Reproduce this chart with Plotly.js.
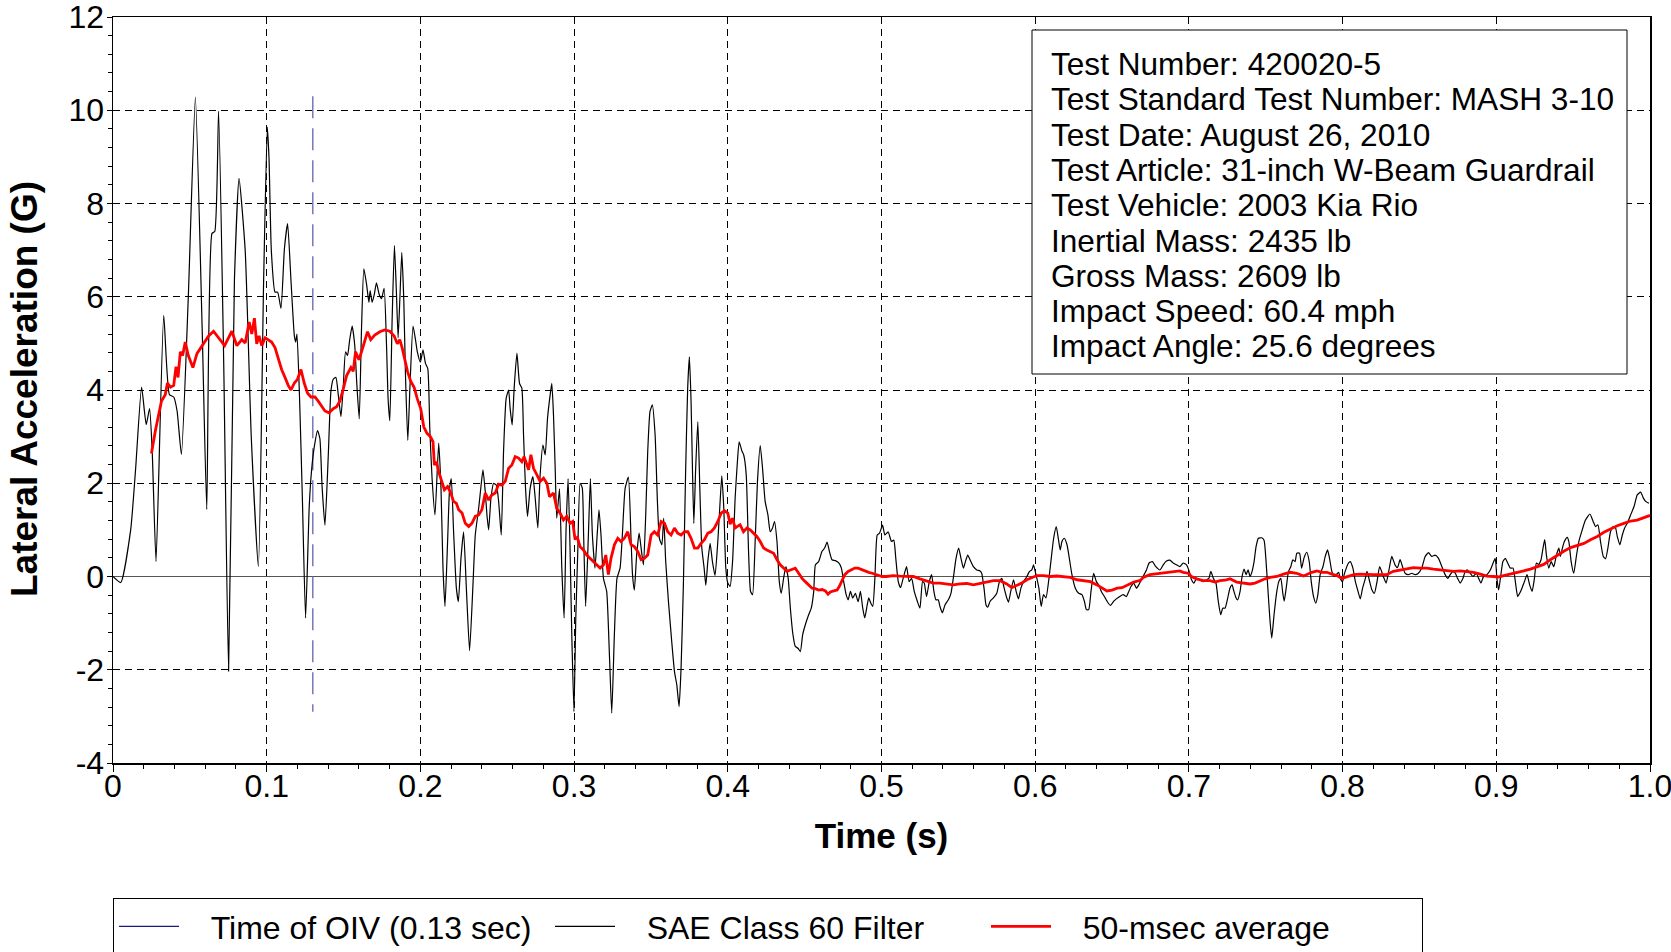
<!DOCTYPE html>
<html><head><meta charset="utf-8">
<script src="https://cdn.plot.ly/plotly-3.0.1.min.js"></script>
<style>html,body{margin:0;padding:0;background:#fff}#chart{width:1671px;height:952px}</style>
</head><body><div id="chart"></div>
<script>
// ---- data ----
const sae_time = [0,0.005,0.0115,0.0147,0.0186,0.0216,0.0238,0.0255,0.028,0.033,0.0367,0.0395,0.0417,0.0445,0.049,0.0536,0.058,0.061,0.0644,0.0662,0.0687,0.072,0.0752,0.079,0.082,0.086,0.090,0.0946,0.098,0.1004,
0.1015,0.103,0.1054,0.1071,0.1093,0.1115,0.1136,0.1158,0.118,0.1189,0.1197,0.1214,0.1232,0.1253,0.1277,0.1292,0.131,0.1331,0.1346,0.136,0.1379,0.14,0.1418,0.1433,0.145,0.1466,0.1483,0.1498,0.1513,0.1526,0.154,0.1556,0.1573,0.1586,0.1602,0.1617,0.1632,0.165,0.1665,0.1673,0.1686,0.17,0.1714,0.1732,0.1747,0.1764,0.178,0.179,0.1801,0.1816,0.1831,0.1844,0.1855,0.1866,0.1879,0.1892,0.1903,0.1918,0.1933,0.1952,0.1968,0.198,
0.2,0.2017,0.2033,0.2048,0.2061,0.2076,0.2095,0.2119,0.2134,0.2147,0.216,0.2177,0.219,0.2201,0.2216,0.2234,0.2247,0.2264,0.2281,0.2299,0.232,0.2342,0.2357,0.2379,0.2394,0.2407,0.2422,0.2433,0.2444,0.2459,0.2476,0.2494,0.2509,0.2526,0.2541,0.2558,0.2574,0.2584,0.2597,0.261,0.2628,0.2645,0.266,0.2671,0.2684,0.2697,0.2714,0.2732,0.2747,0.2764,0.2779,0.2797,0.2812,0.2827,0.2844,0.2855,0.2866,0.2877,0.2887,0.2905,0.292,0.2935,0.2948,0.2961,0.2974,0.2985,0.2999,0.3011,0.3024,0.3039,
0.3053,0.3062,0.3075,0.3093,0.3106,0.3119,0.3136,0.315,0.3162,0.3175,0.3191,0.3212,0.3229,0.3245,0.3262,0.3279,0.3299,0.3314,0.3332,0.3353,0.3371,0.338,0.3392,0.3407,0.3423,0.3436,0.3451,0.3466,0.3479,0.3494,0.3509,0.3527,0.3542,0.3555,0.3571,0.3583,0.3596,0.3614,0.3635,0.3653,0.3668,0.3683,0.3696,0.3711,0.3726,0.3739,0.375,0.3761,0.377,0.3779,0.3791,0.3805,0.3818,0.3831,0.3846,0.3857,0.387,0.3885,0.39,0.3917,0.3935,0.395,0.3961,0.3974,0.3987,
0.4,0.4015,0.4031,0.4048,0.4061,0.4074,0.4091,0.4104,0.412,0.4135,0.4148,0.4161,0.4178,0.4193,0.4211,0.4226,0.4243,0.4261,0.4276,0.4291,0.4304,0.432,0.4335,0.4348,0.4363,0.4378,0.4393,0.4407,0.4424,0.4439,0.4457,0.4472,0.4487,0.4504,0.4526,0.4543,0.4559,0.457,0.4591,0.4613,0.463,0.4646,0.4661,0.4678,0.47,0.4722,0.4739,0.4754,0.477,0.4783,0.4798,0.4813,0.483,0.4848,0.4863,0.4878,0.4891,0.4907,0.4917,0.493,0.4943,0.4957,0.4972,0.4987,
0.5007,0.5022,0.5043,0.5065,0.508,0.5093,0.5109,0.5124,0.5141,0.5163,0.518,0.5196,0.5213,0.5233,0.525,0.5267,0.5278,0.5293,0.5311,0.5326,0.5341,0.5354,0.5369,0.538,0.5396,0.5413,0.5435,0.5452,0.5467,0.5485,0.5502,0.5517,0.5533,0.5546,0.5561,0.5576,0.5598,0.562,0.5641,0.5652,0.5667,0.568,0.5691,0.5707,0.5728,0.575,0.5767,0.5783,0.5798,0.5815,0.5826,0.5841,0.5859,0.5876,0.5891,0.5907,0.5924,0.5946,0.5963,0.5978,0.5989,
0.6,0.6011,0.6024,0.6039,0.6054,0.607,0.6087,0.6102,0.612,0.6137,0.6152,0.6163,0.6174,0.6189,0.6207,0.6222,0.6239,0.6261,0.6283,0.6304,0.632,0.6333,0.6348,0.6363,0.638,0.6398,0.6413,0.643,0.645,0.6467,0.6489,0.6511,0.6528,0.655,0.6572,0.6593,0.6609,0.6624,0.6641,0.6659,0.6674,0.668,0.6702,0.6724,0.6741,0.6763,0.6785,0.6811,0.6833,0.6854,0.6876,0.6898,0.692,0.6941,0.6963,0.6985,
0.7002,0.7017,0.7033,0.705,0.7072,0.7093,0.7115,0.713,0.7143,0.7159,0.7176,0.7191,0.7207,0.722,0.7235,0.725,0.7267,0.7281,0.7293,0.7307,0.7317,0.7333,0.7346,0.7359,0.7372,0.7385,0.7398,0.7411,0.7424,0.7437,0.7452,0.7474,0.7489,0.7502,0.7515,0.7528,0.7539,0.7554,0.7572,0.7585,0.7598,0.7611,0.762,0.7633,0.7648,0.7663,0.7676,0.7691,0.7702,0.772,0.7733,0.775,0.7767,0.7783,0.7796,0.7811,0.7826,0.7839,0.7854,0.7872,0.7887,0.7902,0.7915,0.793,0.7946,0.7959,0.7974,0.7985,
0.8,0.8011,0.8024,0.8039,0.805,0.8067,0.8083,0.8098,0.8115,0.813,0.8148,0.8159,0.8176,0.8191,0.8207,0.8224,0.8241,0.8265,0.8283,0.83,0.832,0.8341,0.8357,0.8374,0.839,0.8407,0.8428,0.845,0.8472,0.8493,0.8515,0.8537,0.8559,0.858,0.8602,0.8624,0.8646,0.8667,0.8685,0.87,0.8717,0.8733,0.8748,0.8765,0.8783,0.8798,0.8813,0.883,0.8848,0.887,0.8885,0.89,0.8917,0.8939,0.8961,0.8983,0.8993,
0.9004,0.9015,0.903,0.9043,0.9059,0.9074,0.9091,0.9109,0.9124,0.9139,0.9152,0.9167,0.9183,0.92,0.9217,0.9233,0.9248,0.9261,0.9276,0.9291,0.9304,0.9315,0.9326,0.9341,0.9357,0.9374,0.9391,0.9407,0.9417,0.943,0.9443,0.9461,0.9472,0.9487,0.9504,0.9522,0.9537,0.9559,0.958,0.9609,0.963,0.9646,0.9661,0.9678,0.9696,0.9711,0.9726,0.9743,0.9761,0.9776,0.9787,0.9804,0.982,0.9835,0.9852,0.9874,0.9896,0.9917,0.9939,0.9957,0.9972,0.9993];
const sae_g = [0,-0.13,1.0,2.3,4.06,3.26,3.6,2.7,0.32,5.6,3.9,3.85,3.55,2.62,6.0,10.28,5.33,1.44,7.36,7.4,9.98,4.65,-2.03,6.35,8.54,7.0,2.96,0.21,6.35,9.64,
8.97,7.0,6.1,6.1,5.75,7.02,7.57,6.35,5.16,5.03,5.2,3.8,1.69,-0.89,1.52,2.28,2.79,3.13,2.96,1.95,1.1,2.54,3.98,4.23,4.27,3.89,3.43,4.06,4.82,4.74,5.08,5.37,4.95,4.15,3.38,5.33,6.6,6.26,5.88,6.13,5.88,6.05,6.3,6.05,5.96,6.18,4.91,3.8,3.34,5.5,7.1,6.09,5.12,5.92,6.95,5.92,4.31,2.92,4.15,5.37,5.08,4.82,
4.6,4.86,4.57,4.46,3.18,2.1,1.32,2.86,1.89,0.18,-0.64,0.75,1.89,2.1,0.96,-0.25,-0.54,0.39,0.96,-0.25,-1.59,-0.18,0.89,1.46,1.93,2.29,1.82,1.32,1.0,1.68,2.0,1.96,1.61,0.89,2.68,3.82,4.0,3.6,3.25,4.04,4.79,4.14,4.04,3.04,1.89,1.29,1.89,2.14,1.68,1.04,2.18,2.82,2.61,3.39,3.89,4.14,3.46,2.32,1.25,1.88,0.18,-0.89,1.04,2.1,0.54,-1.25,-2.9,-0.89,0.54,2.0,
1.9,0.89,-0.64,0.89,2.1,0.89,0.18,0.89,1.43,0.89,-0.04,-0.32,-1.61,-2.93,-1.25,-0.04,0.18,0.89,1.89,2.13,0.75,0.04,-0.29,0.46,0.93,0.61,0.25,1.32,2.68,3.54,3.68,3.04,1.61,0.82,0.68,1.25,0.32,-0.54,-1.39,-2.04,-2.32,-2.79,-1.96,-0.18,2.32,4.04,4.71,3.75,2.32,1.14,2.32,3.32,1.89,0.61,0.18,-0.19,0.32,0.71,0.32,0.02,0.75,1.61,2.16,1.46,0.18,
-0.14,-0.21,0.32,1.7,2.39,2.89,2.7,2.6,2.18,0.54,-0.32,-0.39,0.75,2.04,2.81,2.32,1.61,1.32,0.96,1.04,1.18,0.75,-0.11,-0.36,-0.04,0.21,-0.04,-0.68,-1.25,-1.5,-1.54,-1.61,-1.25,-1.04,-0.82,-0.68,-0.32,0.25,0.32,0.54,0.61,0.74,0.54,0.36,0.34,0.29,0.18,-0.11,-0.39,-0.5,-0.32,-0.46,-0.36,-0.54,-0.32,-0.68,-0.89,-0.61,-0.46,-0.57,-0.64,-0.04,0.89,0.93,
1.1,0.89,0.96,0.75,0.78,0.39,-0.11,-0.24,-0.04,0.21,-0.11,-0.04,-0.32,-0.53,-0.68,-0.11,-0.14,-0.43,-0.11,0.04,-0.32,-0.5,-0.5,-0.64,-0.78,-0.61,-0.5,-0.36,-0.04,0.39,0.61,0.39,0.18,0.32,0.46,0.36,0.21,0.14,0.12,0.07,-0.25,-0.61,-0.66,-0.53,-0.46,-0.36,-0.11,-0.04,-0.25,-0.46,-0.55,-0.32,-0.07,-0.32,-0.48,-0.25,-0.11,0.0,0.11,0.14,0.25,
0.11,-0.04,-0.25,-0.64,-0.39,-0.46,-0.11,0.32,0.82,1.07,0.78,0.57,0.75,0.82,0.68,0.39,0.04,-0.25,-0.36,-0.39,-0.53,-0.71,-0.71,-0.32,0.07,-0.11,-0.18,-0.32,-0.43,-0.53,-0.62,-0.53,-0.48,-0.43,-0.39,-0.43,-0.32,-0.21,-0.14,-0.25,-0.18,-0.14,0.0,0.14,0.29,0.32,0.21,0.14,0.25,0.33,0.35,0.29,0.25,0.21,0.29,0.25,
0.11,-0.07,-0.14,-0.04,-0.07,-0.11,-0.07,-0.04,0.11,-0.04,-0.14,-0.53,-0.82,-0.68,-0.68,-0.5,-0.25,-0.18,-0.32,-0.46,-0.5,-0.32,0.0,0.16,0.04,0.14,0.0,0.11,0.32,0.64,0.82,0.83,0.78,0.32,-0.32,-0.96,-1.32,-0.82,-0.32,-0.11,-0.04,-0.36,-0.53,-0.25,0.11,0.21,0.36,0.32,0.5,0.5,0.18,0.41,0.52,0.32,-0.11,-0.43,-0.57,-0.39,0.04,0.21,0.43,0.57,0.39,0.11,0.0,0.04,0.09,-0.04,
-0.11,0.05,0.18,0.29,0.32,0.18,-0.11,-0.29,-0.48,-0.25,-0.04,0.11,-0.11,-0.29,-0.36,-0.11,0.21,0.0,-0.14,0.11,0.43,0.25,0.19,0.36,0.21,0.07,0.04,0.07,0.04,0.07,0.18,0.43,0.51,0.43,0.46,0.39,0.21,0.04,-0.04,0.04,0.11,0.07,-0.04,-0.14,-0.04,0.11,0.14,0.07,0.0,0.07,-0.04,-0.14,0.0,0.04,0.14,0.32,0.39,
-0.04,-0.29,0.04,0.32,0.39,0.29,0.18,0.18,-0.11,-0.43,-0.36,-0.25,-0.11,0.04,-0.18,-0.32,-0.04,0.29,0.26,0.36,0.61,0.79,0.46,0.18,0.32,0.21,0.46,0.61,0.43,0.61,0.75,0.84,0.75,0.32,0.07,0.46,0.75,1.0,1.21,1.34,1.18,1.07,1.11,0.75,0.43,0.38,0.61,0.96,1.07,1.04,0.86,0.68,0.89,1.04,1.14,1.32,1.5,1.75,1.81,1.68,1.61,1.57];

const avg_time = [0.025,0.0276,0.0315,0.034,0.0354,0.0374,0.0395,0.041,0.0423,0.0438,0.0453,0.047,0.049,0.052,0.0546,0.059,0.0622,0.0654,0.0687,0.0726,0.0773,0.0806,0.0838,0.086,0.0886,0.0903,0.092,0.0935,0.095,0.0968,0.099,
0.1032,0.1054,0.1076,0.1097,0.1119,0.114,0.1158,0.118,0.12,0.1223,0.1244,0.1266,0.1288,0.1314,0.1335,0.1357,0.1379,0.1405,0.1433,0.1455,0.1476,0.1498,0.152,0.1548,0.1563,0.1578,0.16,0.1617,0.1639,0.1656,0.1677,0.1703,0.1736,0.1768,0.1801,0.1829,0.185,0.1866,0.1881,0.1898,0.1916,0.1937,0.1959,0.198,
0.2002,0.2022,0.2043,0.2065,0.2082,0.2091,0.2105,0.2119,0.2141,0.2156,0.2177,0.2194,0.2216,0.2234,0.2249,0.2271,0.2292,0.2314,0.2335,0.2357,0.2379,0.24,0.2422,0.2444,0.2465,0.2487,0.2509,0.253,0.2552,0.2574,0.2595,0.2617,0.2639,0.266,0.2675,0.2693,0.2704,0.2719,0.2736,0.2758,0.2779,0.2801,0.2823,0.284,0.2866,0.2887,0.2909,0.2931,0.2952,0.2974,0.2991,
0.3006,0.3021,0.3039,0.3061,0.3082,0.3104,0.3125,0.3147,0.3169,0.3191,0.3206,0.3223,0.324,0.3262,0.3284,0.3305,0.3327,0.3349,0.3371,0.3392,0.3414,0.3436,0.3457,0.3479,0.3501,0.3522,0.3544,0.3566,0.3588,0.3609,0.3631,0.3653,0.3674,0.3696,0.3718,0.374,0.3761,0.3783,0.3805,0.3826,0.3848,0.387,0.3891,0.3913,0.3935,0.3957,0.3978,
0.4,0.4015,0.403,0.4048,0.4065,0.408,0.4102,0.4124,0.4146,0.4167,0.4189,0.4211,0.4233,0.4254,0.4276,0.4298,0.432,0.4341,0.4363,0.4385,0.4407,0.4439,0.4461,0.4483,0.4504,0.4526,0.4548,0.457,0.4591,0.4613,0.4635,0.4652,0.4667,0.4689,0.4711,0.4726,0.4743,0.4761,0.4783,0.4804,0.4826,0.4848,0.4874,0.4896,0.4917,0.4939,0.4961,0.4983,
0.5004,0.5033,0.5076,0.512,0.5163,0.5207,0.525,0.5293,0.5337,0.538,0.5424,0.5467,0.5511,0.5554,0.5598,0.5641,0.5685,0.5728,0.5772,0.5815,0.5848,0.588,0.5913,0.5946,0.5978,
0.6011,0.6054,0.6098,0.6141,0.6185,0.6228,0.6272,0.6315,0.6359,0.6402,0.6435,0.6467,0.65,0.6533,0.6565,0.6598,0.6641,0.6685,0.6702,0.6746,0.6789,0.6833,0.6876,0.692,0.6941,0.6963,0.6996,
0.7017,0.705,0.7093,0.7137,0.717,0.7202,0.7235,0.7267,0.7311,0.7354,0.7398,0.743,0.7463,0.7496,0.7528,0.7572,0.7615,0.7659,0.7702,0.7746,0.78,0.7833,0.7865,0.7898,0.793,0.7963,0.7996,
0.8028,0.8072,0.8115,0.8159,0.8202,0.8246,0.8287,0.833,0.8374,0.8417,0.8461,0.8504,0.8548,0.8591,0.8635,0.8678,0.8722,0.8765,0.8809,0.8852,0.8896,0.8939,0.8983,
0.9015,0.9048,0.9091,0.9135,0.9178,0.9222,0.9265,0.9309,0.9352,0.9396,0.9439,0.9483,0.9526,0.957,0.9613,0.9657,0.97,0.9743,0.9787,0.983,0.9874,0.9917,0.9961,1.0];
const avg_g = [2.64,3.13,3.76,3.9,4.15,4.06,4.1,4.5,4.27,4.82,4.74,5.03,4.74,4.48,4.78,5.0,5.16,5.26,5.12,4.95,5.26,4.95,5.08,5.01,5.46,5.2,5.54,4.99,5.16,4.95,5.12,
5.03,4.91,4.65,4.44,4.27,4.1,4.0,4.15,4.23,4.44,4.15,3.93,3.85,3.85,3.76,3.64,3.55,3.51,3.6,3.64,3.76,4.02,4.31,4.48,4.4,4.82,4.65,4.82,5.08,5.25,5.08,5.18,5.25,5.29,5.26,5.16,4.99,5.08,4.91,4.65,4.4,4.19,4.06,3.81,
3.6,3.21,3.07,3.0,2.89,2.39,2.46,2.25,2.0,1.86,1.93,1.82,1.61,1.57,1.43,1.36,1.14,1.07,1.14,1.29,1.32,1.43,1.79,1.64,1.75,1.79,1.98,1.96,2.04,2.32,2.39,2.57,2.54,2.46,2.57,2.39,2.29,2.61,2.32,2.18,2.04,2.11,2.0,1.71,1.79,1.46,1.36,1.21,1.29,1.14,1.18,
0.8,0.84,0.64,0.57,0.46,0.38,0.32,0.25,0.18,0.25,0.46,0.04,0.39,0.68,0.82,0.75,0.82,0.96,0.68,0.64,0.54,0.36,0.39,0.46,0.89,0.96,0.89,1.18,1.14,0.96,0.89,1.04,0.93,0.89,0.96,0.96,0.82,0.61,0.61,0.71,0.79,0.93,0.96,1.04,1.18,1.36,1.41,
1.36,1.12,1.25,1.04,1.08,1.11,0.96,1.04,1.0,0.93,0.86,0.75,0.61,0.57,0.54,0.5,0.36,0.25,0.18,0.11,0.14,0.18,0.07,-0.04,-0.11,-0.18,-0.25,-0.26,-0.29,-0.28,-0.31,-0.38,-0.33,-0.31,-0.29,-0.21,-0.07,0.04,0.11,0.14,0.18,0.18,0.14,0.11,0.09,0.07,0.05,0.02,
0.0,0.0,0.02,0.01,0.01,0.0,-0.05,-0.09,-0.14,-0.14,-0.16,-0.18,-0.16,-0.15,-0.18,-0.15,-0.11,-0.09,-0.09,-0.16,-0.24,-0.19,-0.14,-0.07,-0.02,
0.02,0.02,0.0,0.01,0.0,-0.02,-0.07,-0.09,-0.11,-0.18,-0.25,-0.31,-0.29,-0.25,-0.24,-0.19,-0.12,-0.08,-0.02,0.04,0.06,0.08,0.09,0.11,0.12,0.09,0.07,
0.0,-0.05,-0.09,-0.09,-0.12,-0.09,-0.08,-0.05,-0.12,-0.14,-0.16,-0.14,-0.09,-0.05,-0.02,0.0,0.05,0.09,0.07,0.01,0.09,0.12,0.09,0.09,0.05,0.02,-0.04,
0.0,0.04,0.05,0.04,0.04,0.04,0.04,0.11,0.14,0.16,0.19,0.18,0.18,0.16,0.14,0.12,0.11,0.12,0.11,0.09,0.05,0.01,0.0,
-0.01,0.02,0.05,0.09,0.12,0.16,0.21,0.26,0.36,0.46,0.54,0.62,0.66,0.71,0.79,0.86,0.95,1.02,1.09,1.14,1.19,1.21,1.26,1.31];

const oiv_time = 0.13;
const oiv_extent = [10.3, -2.9];

const x_tick_vals = [0,0.1,0.2,0.3,0.4,0.5,0.6,0.7,0.8,0.9,1.0];
const x_tick_text = ['0','0.1','0.2','0.3','0.4','0.5','0.6','0.7','0.8','0.9','1.0'];
const y_tick_vals = [-4,-2,0,2,4,6,8,10,12];
const y_tick_text = ['-4','-2','0','2','4','6','8','10','12'];

const series_names = ['Time of OIV (0.13 sec)', 'SAE Class 60 Filter', '50-msec average'];
const info_lines = ['Test Number: 420020-5','Test Standard Test Number: MASH 3-10','Test Date: August 26, 2010','Test Article: 31-inch W-Beam Guardrail','Test Vehicle: 2003 Kia Rio','Inertial Mass: 2435 lb','Gross Mass: 2609 lb','Impact Speed: 60.4 mph','Impact Angle: 25.6 degrees'];
const x_title = 'Time (s)';
const y_title = 'Lateral Acceleration (G)';

const FAM = '"Liberation Sans", Arial, sans-serif';
const PAD = '\u00a0\u00a0\u00a0';

// ---- geometry helpers (pixels -> paper) ----
const W=1671, H=952, M={l:113,r:21,t:17,b:189,autoexpand:false};
const PW=W-M.l-M.r, PH=H-M.t-M.b;
const px=v=>(v-M.l)/PW, py=v=>(H-M.b-v)/PH;

const traces = [
  {x:[oiv_time,oiv_time], y:oiv_extent, mode:'lines', line:{color:'#6262b8',width:1.3,dash:'22px,10px'}, showlegend:false, hoverinfo:'skip'},
  {x:[null], y:[null], mode:'lines', name:PAD+series_names[0], line:{color:'#1a1a80',width:1.2}},
  {x:sae_time, y:sae_g, mode:'lines', name:PAD+series_names[1], line:{color:'#000000',width:1.2,shape:'spline',smoothing:0.5}},
  {x:avg_time, y:avg_g, mode:'lines', name:PAD+series_names[2], line:{color:'#ff0000',width:2.8}}
];

const annotations = info_lines.map((t,i)=>({
  text:t, xref:'paper', yref:'paper', x:px(1049), y:py(64+35.3*i), xanchor:'left', yanchor:'middle',
  showarrow:false, align:'left', font:{family:FAM, size:31.6, color:'#000'}
}));
annotations.push({text:y_title, xref:'paper', yref:'paper', x:px(24), y:py(389), xanchor:'center', yanchor:'middle',
  textangle:-90, showarrow:false, font:{family:FAM, size:37, color:'#000', weight:'bold'}});

const layout = {
  width:W, height:H, margin:M, paper_bgcolor:'#fff', plot_bgcolor:'#fff', showlegend:true,
  xaxis:{range:[0,1], tickvals:x_tick_vals, ticktext:x_tick_text, showline:true, linecolor:'#000', linewidth:1.5, mirror:true,
    showgrid:true, gridcolor:'#000', gridwidth:1, griddash:'7px,5px', zeroline:false,
    ticks:'outside', ticklen:7, tickwidth:1, tickcolor:'#000', ticklabeloverflow:'allow', ticklabelstandoff:-13,
    minor:{dtick:0.02, ticks:'outside', ticklen:4, tickcolor:'#000', showgrid:false},
    tickfont:{family:FAM, size:32, color:'#000'},
    title:{text:x_title, font:{family:FAM, size:35, color:'#000', weight:'bold'}, standoff:20}},
  yaxis:{range:[-4,12], tickvals:y_tick_vals, ticktext:y_tick_text, showline:true, linecolor:'#000', linewidth:1.5, mirror:true,
    showgrid:true, gridcolor:'#000', gridwidth:1, griddash:'7px,5px',
    zeroline:true, zerolinecolor:'#555', zerolinewidth:1.3,
    ticks:'outside', ticklen:5, tickwidth:1, tickcolor:'#000', ticklabeloverflow:'allow', ticklabelstandoff:-4,
    minor:{dtick:0.4, ticks:'outside', ticklen:4, tickcolor:'#000', showgrid:false},
    tickfont:{family:FAM, size:32, color:'#000'}},
  legend:{orientation:'h', x:0, xanchor:'left', y:py(898), yanchor:'top', bgcolor:'#fff', bordercolor:'#000', borderwidth:1,
    font:{family:FAM, size:32, color:'#000'}, itemwidth:60, entrywidth:361, entrywidthmode:'pixels', traceorder:'normal'},
  shapes:[{type:'rect', xref:'paper', yref:'paper', x0:px(1032), x1:px(1627), y0:py(374), y1:py(30), line:{color:'#000',width:1}, fillcolor:'#fff', layer:'above'}],
  annotations:annotations
};

Plotly.newPlot('chart', traces, layout, {displayModeBar:false, staticPlot:true});
</script></body></html>
